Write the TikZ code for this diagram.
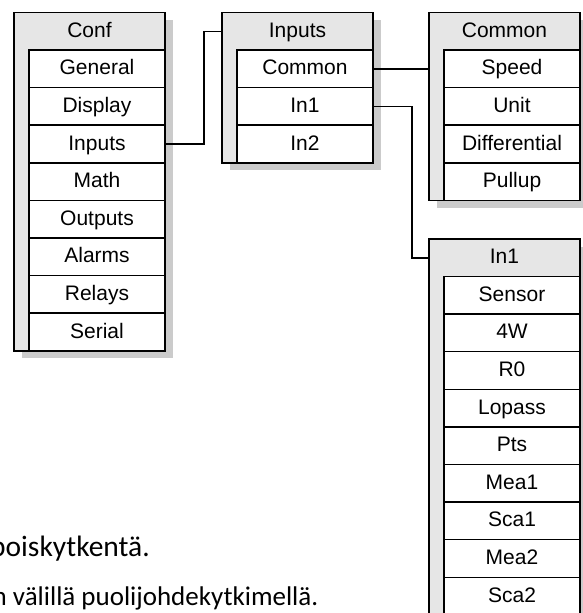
\documentclass[tikz,border=0pt]{standalone}
\usepackage{fontspec}
\setmainfont{Liberation Sans}
\newfontfamily\bodyfont{Carlito}
\usetikzlibrary{shadows}
\definecolor{hdr}{HTML}{E6E6E6}
\definecolor{shd}{HTML}{CBCBCB}
\begin{document}
\begin{tikzpicture}[x=1pt,y=-1pt,
  lw/.style={line width=1.5pt},
  frame/.style={lw,draw=black,fill=hdr,minimum width=151pt,inner sep=0pt,
    drop shadow={shadow xshift=7.5pt,shadow yshift=-7.5pt,fill=shd,opacity=1}},
  hdrtext/.style={inner sep=0pt,text height=15pt,text depth=3pt,font=\fontsize{21}{25}\selectfont},
  rowbox/.style={lw,draw=black,fill=white,minimum width=136pt,minimum height=37.6pt,
    inner sep=0pt,text height=15pt,text depth=3pt,font=\fontsize{21}{25}\selectfont},
  conn/.style={lw,draw=black},
  para/.style={inner sep=0pt,anchor=base east}]
\useasboundingbox (0,0) rectangle (583,613);
% Conf
\node[frame,minimum height=338.1pt] (cb) at (89.5,181.75) {};
\node[hdrtext] (ch) at (89.5,31.45) {Conf};
\foreach \t [count=\i] in {General,Display,Inputs,Math,Outputs,Alarms,Relays,Serial}
  \node[rowbox] (c\i) at (97,{68.8+37.6*(\i-1)}) {\t};
% Inputs
\node[frame,minimum height=150.1pt] (ib) at (297.5,87.75) {};
\node[hdrtext] (ih) at (297.5,31.45) {Inputs};
\foreach \t [count=\i] in {Common,In1,In2}
  \node[rowbox] (i\i) at (305,{68.8+37.6*(\i-1)}) {\t};
% Common
\node[frame,minimum height=187.7pt] (mb) at (504.5,106.55) {};
\node[hdrtext] (mh) at (504.5,31.45) {Common};
\foreach \t [count=\i] in {Speed,Unit,Differential,Pullup}
  \node[rowbox] (m\i) at (512,{68.8+37.6*(\i-1)}) {\t};
% In1
\node[frame,minimum height=376.1pt] (nb) at (504.5,427.05) {};
\node[hdrtext] (nh) at (504.5,257.75) {In1};
\foreach \t [count=\i] in {Sensor,4W,R0,Lopass,Pts,Mea1,Sca1,Mea2,Sca2}
  \node[rowbox] (n\i) at (512,{295.3+37.6*(\i-1)}) {\t};
% connectors
\draw[conn] (c3.east) -- ++(38.3,0) |- (ih -| ib.west);
\draw[conn] (i1.east) -- (i1.east -| mb.west);
\draw[conn] (i2.east) -- ++(38,0) |- (nh -| nb.west);
% text
\node[para,font=\bodyfont\fontsize{29.5}{35}\selectfont] (t1) at (150,556.7) {poiskytkentä.};
\node[para,font=\bodyfont\fontsize{27}{32}\selectfont] (t2) at (318.5,605) {n välillä puolijohdekytkimellä.};
\end{tikzpicture}
\end{document}
